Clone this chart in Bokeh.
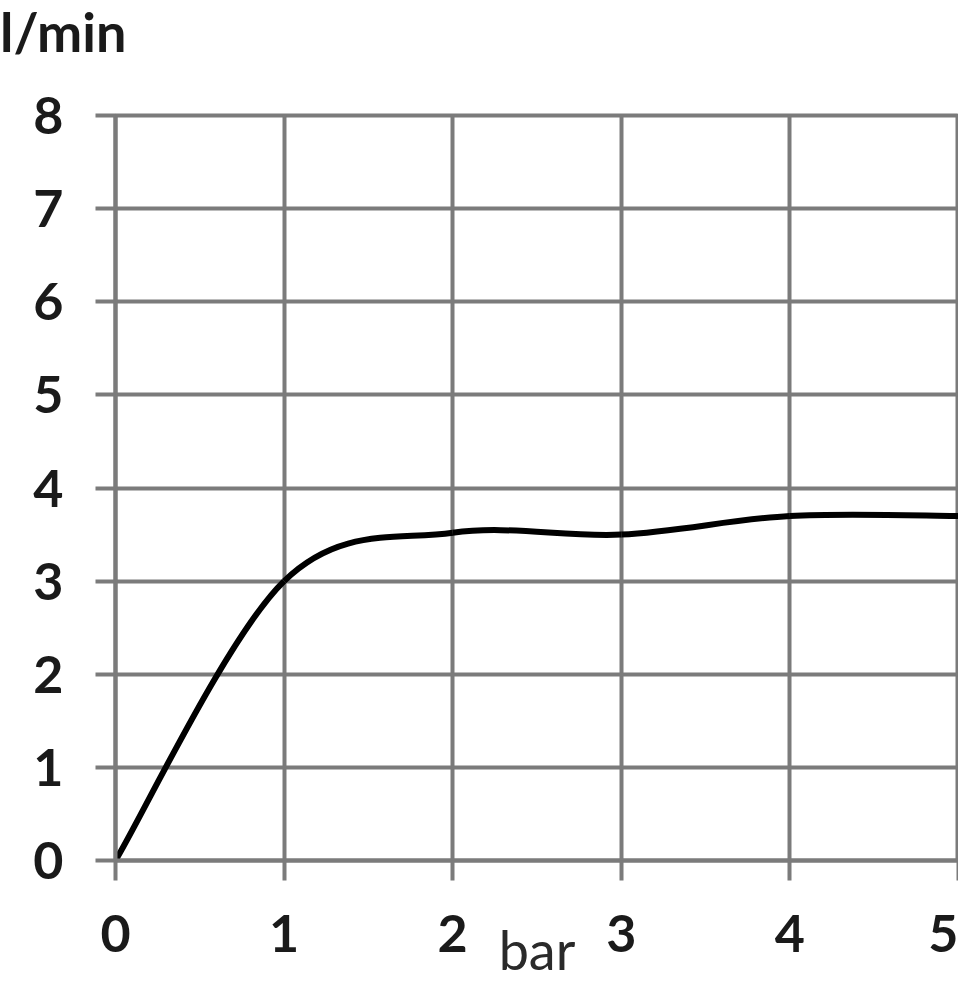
from bokeh.plotting import figure
from bokeh.models import ColumnDataSource, FixedTicker, Range1d, Div
from bokeh.layouts import column
from bokeh.embed import file_html
from bokeh.resources import INLINE

# Data
pressure_bar = [0, 1, 2, 3, 4, 5]
flow_lpm = [0.0, 3.0, 3.52, 3.5, 3.7, 3.7]
x_ticks = [0, 1, 2, 3, 4, 5]
y_ticks = [0, 1, 2, 3, 4, 5, 6, 7, 8]
y_unit_label = "l/min"
x_unit_label = "bar"

# Smoothed line (Catmull-Rom style control points, as in a spreadsheet "smoothed line")
n = len(pressure_bar)
x0, y0, x1, y1, cx0, cy0, cx1, cy1 = [], [], [], [], [], [], [], []
for i in range(n - 1):
    pm = max(i - 1, 0)
    pp = min(i + 2, n - 1)
    xa, ya = pressure_bar[i], flow_lpm[i]
    xb, yb = pressure_bar[i + 1], flow_lpm[i + 1]
    x0.append(xa); y0.append(ya); x1.append(xb); y1.append(yb)
    cx0.append(xa + (xb - pressure_bar[pm]) / 6.0)
    cy0.append(ya + (yb - flow_lpm[pm]) / 6.0)
    cx1.append(xb - (pressure_bar[pp] - xa) / 6.0)
    cy1.append(yb - (flow_lpm[pp] - ya) / 6.0)
src = ColumnDataSource(dict(x0=x0, y0=y0, x1=x1, y1=y1, cx0=cx0, cy0=cy0, cx1=cx1, cy1=cy1))

FONT = "Lato"
GRID = "#7b7b7b"

title_div = Div(text=y_unit_label, width=958, height=60,
                styles={"font-family": "Lato", "font-size": "54px", "font-weight": "bold",
                        "color": "#1a1a1a", "line-height": "1.2", "margin": "0",
                        "padding": "0"})

p = figure(width=958, height=924, output_backend="svg", toolbar_location=None,
           x_range=Range1d(0, 5), y_range=Range1d(0, 8),
           min_border_left=115, min_border_right=0, min_border_top=55, min_border_bottom=124)

p.bezier(x0="x0", y0="y0", x1="x1", y1="y1", cx0="cx0", cy0="cy0", cx1="cx1", cy1="cy1",
         source=src, line_color="black", line_width=6)

for ax in (p.xaxis, p.yaxis):
    ax.axis_line_color = GRID
    ax.axis_line_width = 4
    ax.major_tick_line_color = GRID
    ax.major_tick_line_width = 4
    ax.major_tick_out = 20
    ax.major_tick_in = 0
    ax.minor_tick_line_color = None
    ax.major_label_text_font = FONT
    ax.major_label_text_font_size = "52px"
    ax.major_label_text_font_style = "bold"
    ax.major_label_text_color = "#1a1a1a"
    ax.major_label_text_line_height = 1.0

p.xaxis.ticker = FixedTicker(ticks=x_ticks)
p.yaxis.ticker = FixedTicker(ticks=y_ticks)
p.xaxis.major_label_standoff = 34
p.yaxis.major_label_standoff = 32
p.xaxis.axis_label = x_unit_label
p.xaxis.axis_label_text_font = FONT
p.xaxis.axis_label_text_font_size = "54px"
p.xaxis.axis_label_text_font_style = "normal"
p.xaxis.axis_label_text_color = "#2a2a2a"
p.xaxis.axis_label_standoff = -38

p.xgrid.ticker = FixedTicker(ticks=x_ticks)
p.ygrid.ticker = FixedTicker(ticks=y_ticks)
for g in (p.xgrid, p.ygrid):
    g.grid_line_color = GRID
    g.grid_line_width = 4
    g.grid_line_alpha = 1.0

p.outline_line_color = GRID
p.outline_line_width = 4

layout = column(title_div, p, spacing=0)
open("out.html", "w").write(file_html(layout, INLINE))
